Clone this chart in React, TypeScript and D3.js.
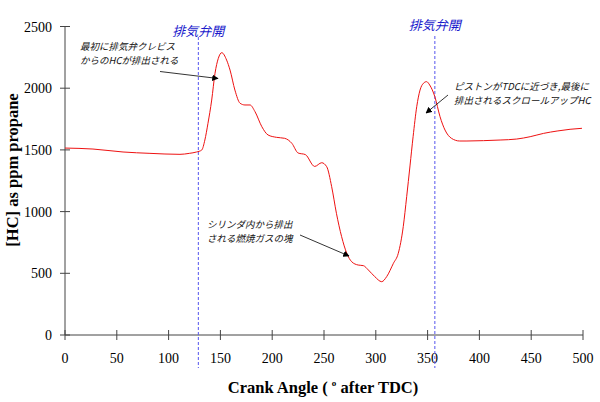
import React from 'react'
import * as d3 from 'd3'

const angles = [0, 27, 56, 82, 111, 120, 127, 132, 135, 138, 141.6, 144.8, 148, 151.3, 156, 159.3, 164, 169, 173.7, 178.6, 183.4, 190, 196, 204, 212, 219, 225, 232, 241, 247.8, 252.6, 257.4, 262, 267, 272, 276.7, 283, 288, 292.8, 299, 305.7, 310.5, 317, 321.7, 326.5, 329.8, 333, 336, 339.5, 342.7, 346, 349, 352, 357, 362, 366.8, 373, 381, 388, 404, 420, 436, 449, 462, 475, 487.5, 499]
const hc = [1515, 1507, 1483, 1472, 1464, 1472, 1483, 1499, 1580, 1715, 1904, 2121, 2242, 2288, 2228, 2147, 1985, 1878, 1864, 1864, 1810, 1688, 1621, 1602, 1594, 1553, 1475, 1462, 1366, 1396, 1364, 1202, 986, 797, 662, 594, 567, 562, 527, 473, 432, 473, 581, 662, 878, 1121, 1370, 1607, 1850, 1985, 2040, 2053, 2026, 1931, 1769, 1661, 1594, 1572, 1572, 1575, 1580, 1588, 1607, 1634, 1653, 1667, 1675]
const valveAngles = [128.7, 357]
const valveLabel = '排気弁開'
const xTicks = [0, 50, 100, 150, 200, 250, 300, 350, 400, 450, 500]
const yTicks = [0, 500, 1000, 1500, 2000, 2500]

const serif = 'Liberation Serif, serif'
const jp = 'Noto Sans CJK JP, sans-serif'

export default function App() {
  const x = d3.scaleLinear().domain([0, 500]).range([65, 583])
  const y = d3.scaleLinear().domain([0, 2500]).range([335, 26.5])

  const line = d3.line<number>()
    .x((d, i) => x(angles[i]))
    .y(d => y(d))
    .curve(d3.curveMonotoneX)

  const axisColor = '#444'

  return (
    <svg width={600} height={402} style={{position: 'absolute', left: 0, top: 0, background: '#fff'}}>
      {/* axes */}
      <line x1={x(0)} x2={x(500)} y1={y(0)} y2={y(0)} stroke={axisColor} />
      <line x1={x(0)} x2={x(0)} y1={y(0)} y2={y(2500)} stroke={axisColor} />
      {xTicks.map(t => (
        <g key={'x' + t}>
          <line x1={x(t)} x2={x(t)} y1={y(0) - 5} y2={y(0) + 5} stroke={axisColor} />
          <text x={x(t)} y={363} textAnchor="middle" style={{fontFamily: serif, fontSize: 14}}>{t}</text>
        </g>
      ))}
      {yTicks.map(t => (
        <g key={'y' + t}>
          <line x1={x(0) - 5} x2={x(0) + 5} y1={y(t)} y2={y(t)} stroke={axisColor} />
          <text x={52} y={y(t) + 5} textAnchor="end" style={{fontFamily: serif, fontSize: 14}}>{t}</text>
        </g>
      ))}

      {/* valve open markers */}
      {valveAngles.map((a, i) => (
        <g key={'v' + i}>
          <line x1={x(a)} x2={x(a)} y1={i === 0 ? 37 : 36} y2={368} stroke="#5555ee" strokeDasharray="3,2" />
          <text x={x(a)} y={i === 0 ? 36 : 30} textAnchor="middle"
            style={{fontFamily: jp, fontSize: 13, fontStyle: 'italic'}} fill="#1a1acc">{valveLabel}</text>
        </g>
      ))}

      {/* data */}
      <path d={line(hc) || ''} fill="none" stroke="#ee1111" strokeWidth={1} />

      {/* annotations */}
      <defs>
        <marker id="arr" viewBox="0 0 10 10" refX="9" refY="5" markerWidth="8" markerHeight="8" orient="auto">
          <path d="M0,0 L10,5 L0,10 z" fill="#000" />
        </marker>
      </defs>
      <g style={{fontFamily: jp, fontSize: 9.5, fontStyle: 'italic'}} fill="#111">
        <text x={80} y={50}>最初に排気弁クレビス</text>
        <text x={80} y={64}>からのHCが排出される</text>
        <text x={454} y={90}>ピストンがTDCに近づき,最後に</text>
        <text x={454} y={104}>排出されるスクロールアップHC</text>
        <text x={207} y={228}>シリンダ内から排出</text>
        <text x={207} y={242}>される燃焼ガスの塊</text>
      </g>
      <line x1={160} y1={71.5} x2={218} y2={78.5} stroke="#000" strokeWidth={0.8} markerEnd="url(#arr)" />
      <line x1={448} y1={95} x2={426} y2={113} stroke="#000" strokeWidth={0.8} markerEnd="url(#arr)" />
      <line x1={300} y1={235} x2={349} y2={256} stroke="#000" strokeWidth={0.8} markerEnd="url(#arr)" />

      {/* axis titles */}
      <text x={323} y={393} textAnchor="middle" style={{fontFamily: serif, fontSize: 16.5, fontWeight: 'bold'}}>
        Crank Angle ( <tspan style={{fontSize: 9}} dy={-7}>o</tspan><tspan dy={7}> after TDC)</tspan>
      </text>
      <text transform="translate(18,170) rotate(-90)" textAnchor="middle"
        style={{fontFamily: serif, fontSize: 16.5, fontWeight: 'bold'}}>
        [HC] as ppm propane
      </text>
    </svg>
  )
}
